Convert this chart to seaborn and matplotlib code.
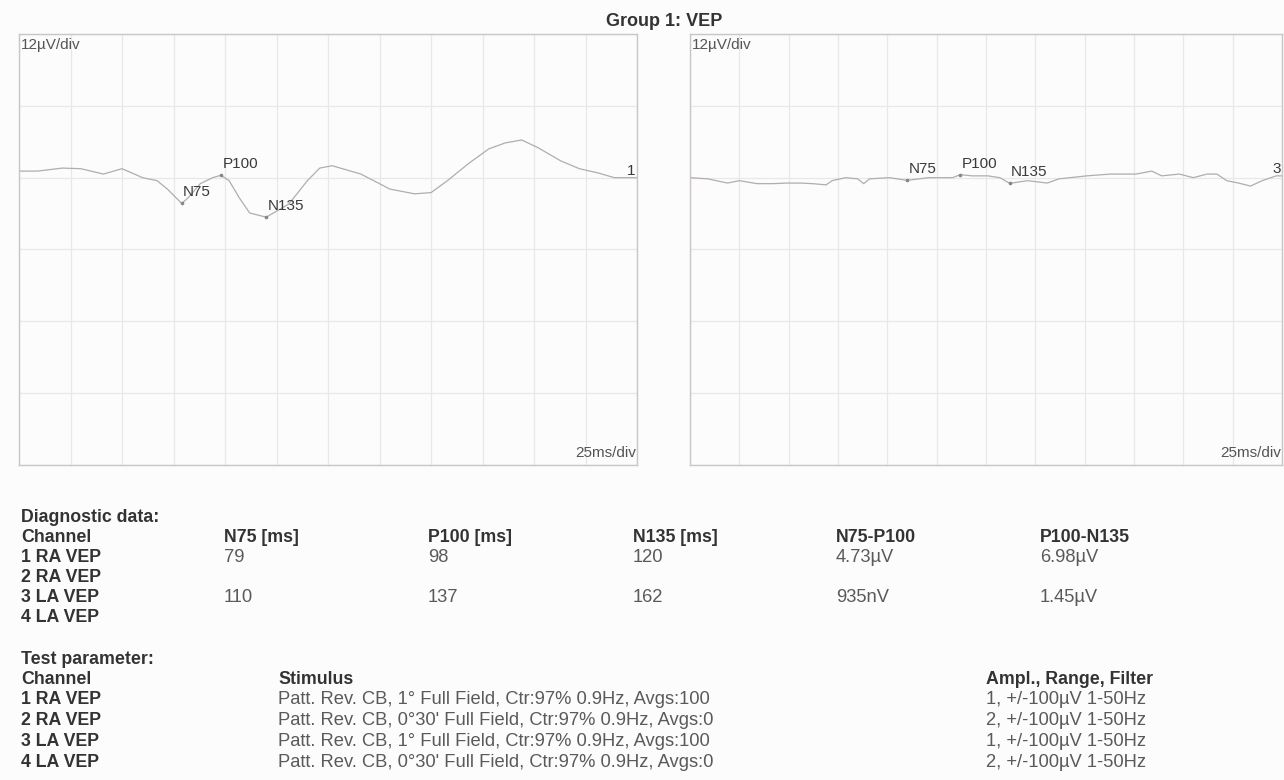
import numpy as np
import seaborn as sns
import matplotlib.pyplot as plt

# Trace data (time in ms, amplitude in uV).
t_ch1 = [0, 9, 21, 30, 41, 50, 60, 67, 72, 79, 82, 88, 94, 98, 102, 107, 112, 120,
         123, 131, 140, 146, 152, 166, 180, 192, 200, 208, 218, 228, 236, 244, 252,
         263, 272, 281, 289, 300]
v_ch1 = [0.3, 0.3, 0.8, 0.7, -0.2, 0.7, -0.8, -1.3, -2.7, -5.1, -4.2, -1.8, -0.8, -0.4,
         -1.3, -4.2, -6.7, -7.4, -6.8, -5.2, -1.3, 0.8, 1.2, -0.2, -2.7, -3.5, -3.3,
         -1.3, 1.5, 4.0, 5.0, 5.5, 4.2, 2.0, 0.7, 0.0, -0.8, -0.8]

t_ch3 = [0, 9, 19, 25, 34, 42, 49, 56, 62, 69, 72, 79, 85, 88, 91, 101, 110, 121, 133,
         137, 143, 151, 157, 162, 171, 181, 187, 201, 213, 226, 234, 239, 248, 255,
         262, 267, 272, 278, 284, 290, 297, 300]
v_ch3 = [-0.8, -1.0, -1.7, -1.3, -1.8, -1.8, -1.7, -1.7, -1.8, -2.0, -1.3, -0.8, -1.0,
         -1.8, -1.0, -0.8, -1.25, -0.8, -0.8, -0.3, -0.5, -0.5, -0.8, -1.75, -1.3,
         -1.7, -1.0, -0.5, -0.2, -0.2, 0.3, -0.5, -0.2, -0.8, -0.2, -0.2, -1.3, -1.7,
         -2.2, -1.3, -0.5, -0.5]

peak_names = ["N75", "P100", "N135"]
peaks_ch1 = [79, 98, 120]
peaks_ch3 = [110, 137, 162]

# Diagnostic table
channels = ["1 RA VEP", "2 RA VEP", "3 LA VEP", "4 LA VEP"]
diag_headers = ["N75 [ms]", "P100 [ms]", "N135 [ms]", "N75-P100", "P100-N135"]
n75_ms = ["79", "", "110", ""]
p100_ms = ["98", "", "137", ""]
n135_ms = ["120", "", "162", ""]
n75_p100 = ["4.73µV", "", "935nV", ""]
p100_n135 = ["6.98µV", "", "1.45µV", ""]

# Test parameters
stimulus = ["Patt. Rev. CB, 1° Full Field, Ctr:97% 0.9Hz, Avgs:100",
            "Patt. Rev. CB, 0°30' Full Field, Ctr:97% 0.9Hz, Avgs:0",
            "Patt. Rev. CB, 1° Full Field, Ctr:97% 0.9Hz, Avgs:100",
            "Patt. Rev. CB, 0°30' Full Field, Ctr:97% 0.9Hz, Avgs:0"]
ampl_filter = ["1, +/-100µV 1-50Hz", "2, +/-100µV 1-50Hz",
               "1, +/-100µV 1-50Hz", "2, +/-100µV 1-50Hz"]

sns.set_style("white")
plt.rcParams['font.family'] = ['Liberation Sans', 'DejaVu Sans']

W, H = 1284, 780
BG = "#fcfcfc"
fig = plt.figure(figsize=(W / 100, H / 100), dpi=100, facecolor=BG)

Y0, Y1 = -48.8, 23.2


def draw_panel(rect, t, v, peaks, chan):
    ax = fig.add_axes(rect)
    ax.set_facecolor(BG)
    sns.lineplot(x=t, y=v, ax=ax, color="#b3acac", linewidth=0.9)
    ax.set_xlim(0, 300)
    ax.set_ylim(Y0, Y1)
    ax.set_xticks(np.arange(0, 301, 25))
    ax.set_yticks(Y0 + 12 * np.arange(7))
    ax.grid(True, color="#e8e8e8", linewidth=0.9)
    ax.tick_params(length=0, labelbottom=False, labelleft=False)
    for s in ax.spines.values():
        s.set_visible(True)
        s.set_color("#cbc6c6")
        s.set_linewidth(1.0)
    for name, lat in zip(peak_names, peaks):
        amp = v[t.index(lat)]
        ax.plot([lat], [amp], marker="o", markersize=1.6, color="#8a8585")
        ax.annotate(name, (lat, amp), xytext=(1, 3), textcoords="offset points",
                    ha="left", va="bottom", fontsize=11, color="#3a3a3a")
    ax.annotate(chan, (300, v[-1]), xytext=(-1, 5), textcoords="offset points",
                ha="right", va="center", fontsize=11, color="#3a3a3a")
    ax.text(0.003, 0.99, "12µV/div", transform=ax.transAxes, ha="left", va="top",
            fontsize=11, color="#555555")
    ax.text(0.998, 0.012, "25ms/div", transform=ax.transAxes, ha="right",
            va="bottom", fontsize=11, color="#555555")
    return ax


def px_rect(x0, x1, y0, y1):
    return [x0 / W, 1 - y1 / H, (x1 - x0) / W, (y1 - y0) / H]


draw_panel(px_rect(19, 637, 34, 465), t_ch1, v_ch1, peaks_ch1, "1")
draw_panel(px_rect(690, 1282, 34, 465), t_ch3, v_ch3, peaks_ch3, "3")

fig.text(664 / W, 1 - 21 / H, "Group 1: VEP", ha="center", va="center",
         fontsize=13, fontweight="bold", color="#333333")


def txt(x, y, s, bold=False):
    fig.text(x / W, 1 - y / H, s, ha="left", va="center",
             fontsize=12.8 if bold else 13.2,
             fontweight="bold" if bold else "normal",
             color="#333333" if bold else "#5a5a5a")


# diagnostic data block
txt(21, 518, "Diagnostic data:", bold=True)
txt(21, 538, "Channel", bold=True)
diag_x = [224, 428, 633, 836, 1040]
for x, h in zip(diag_x, diag_headers):
    txt(x, 538, h, bold=True)
cols = [n75_ms, p100_ms, n135_ms, n75_p100, p100_n135]
for i, ch in enumerate(channels):
    y = 558 + i * 20
    txt(21, y, ch, bold=True)
    for x, col in zip(diag_x, cols):
        if col[i]:
            txt(x, y, col[i])

# test parameter block
txt(21, 659, "Test parameter:", bold=True)
txt(21, 680, "Channel", bold=True)
txt(278, 680, "Stimulus", bold=True)
txt(986, 680, "Ampl., Range, Filter", bold=True)
for i, ch in enumerate(channels):
    y = 700 + i * 20.7
    txt(21, y, ch, bold=True)
    txt(278, y, stimulus[i])
    txt(986, y, ampl_filter[i])

fig.savefig("out.png", dpi=100, facecolor=BG)
